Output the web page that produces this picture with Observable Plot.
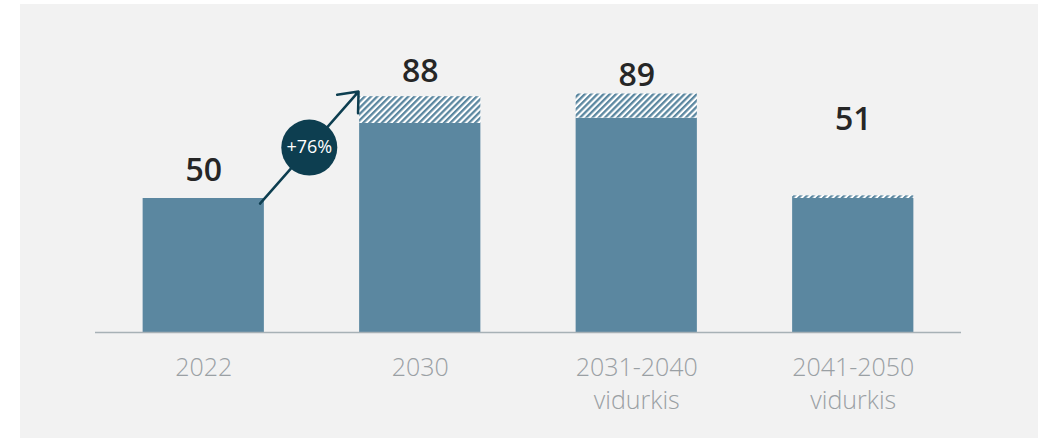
<!DOCTYPE html>
<html>
<head>
<meta charset="utf-8">
<script src="https://cdn.jsdelivr.net/npm/d3@7"></script>
<script src="https://cdn.jsdelivr.net/npm/@observablehq/plot@0.6"></script>
<style>
  html, body { margin: 0; padding: 0; background: #ffffff; }
  #panel { position: absolute; left: 20px; top: 4px; width: 1018px; height: 434px; background: #f2f2f2; }
  #panel svg { display: block; }
</style>
</head>
<body>
<div id="panel"></div>
<script>
// ---- data ----
const categories = ["2022", "2030", "2031-2040\nvidurkis", "2041-2050\nvidurkis"];
const totals = [50, 88, 89, 51];        // printed values (bar incl. hatched part)
const solidValues = [50, 78, 80, 50];   // solid part of each bar
const growthFrom = 0;                   // index of "2022"
const growthTo = 1;                     // index of "2030"
const growthLabel = "+76%";

// ---- build table ----
const rows = categories.map((c, i) => ({i, cat: c, total: totals[i], solid: solidValues[i]}));

const barColor = "#5b87a0";
const dark = "#0d3e50";
const half = 0.28;
const labelDy = [-28, -25, -18, -76];

const arrowRow = [{
  x1: growthFrom + half - 0.02, y1: totals[growthFrom] - 1.9,
  x2: growthTo - half - 0.005, y2: totals[growthTo] + 1.9
}];
const mid = [{x: (arrowRow[0].x1 + arrowRow[0].x2) / 2, y: (arrowRow[0].y1 + arrowRow[0].y2) / 2, t: growthLabel}];

const chart = Plot.plot({
  width: 1018,
  height: 434,
  marginLeft: 75,
  marginRight: 77,
  marginTop: 60,
  marginBottom: 106,
  style: {background: "transparent", fontFamily: "'Open Sans', sans-serif"},
  x: {domain: [-0.5, 3.5], axis: null},
  y: {domain: [0, 100], axis: null},
  marks: [
    Plot.rectY(rows, {x1: d => d.i - half, x2: d => d.i + half, y1: 0, y2: "solid", fill: barColor}),
    Plot.rectY(rows, {x1: d => d.i - half, x2: d => d.i + half, y1: "solid", y2: "total", fill: "white"}),
    Plot.rectY(rows, {x1: d => d.i - half, x2: d => d.i + half, y1: "solid", y2: "total", fill: "url(#hatch)"}),
    Plot.ruleY([0], {stroke: "#a7b1b6", strokeWidth: 1.5}),
    Plot.axisX({
      ticks: rows.map(d => d.i),
      tickFormat: i => categories[i],
      tickSize: 0,
      tickPadding: 20,
      fontSize: 25,
      fontWeight: 300,
      lineHeight: 1.32,
      color: "#9aa0a4",
      label: null
    }),
    ...rows.map((r, k) => Plot.text([r], {
      x: "i", y: "total", text: d => String(d.total),
      dy: labelDy[k], fontSize: 32, fontWeight: 600, fill: "#262626"
    })),
    Plot.arrow(arrowRow, {x1: "x1", y1: "y1", x2: "x2", y2: "y2", stroke: dark, strokeWidth: 2.5, headLength: 13, headAngle: 80}),
    Plot.dot(mid, {x: "x", y: "y", r: 28, fill: dark, stroke: "none"}),
    Plot.text(mid, {x: "x", y: "y", text: "t", fill: "white", fontSize: 18, fontWeight: 400})
  ]
});

const svgNS = "http://www.w3.org/2000/svg";
const defs = document.createElementNS(svgNS, "defs");
defs.innerHTML = `<pattern id="hatch" patternUnits="userSpaceOnUse" width="4.4" height="4.4" patternTransform="rotate(45)">
  <rect x="0" y="0" width="4.4" height="4.4" fill="#ffffff"></rect>
  <rect x="0" y="0" width="2.3" height="4.4" fill="${barColor}"></rect>
</pattern>`;
chart.insertBefore(defs, chart.firstChild);
document.getElementById("panel").appendChild(chart);
</script>
</body>
</html>
